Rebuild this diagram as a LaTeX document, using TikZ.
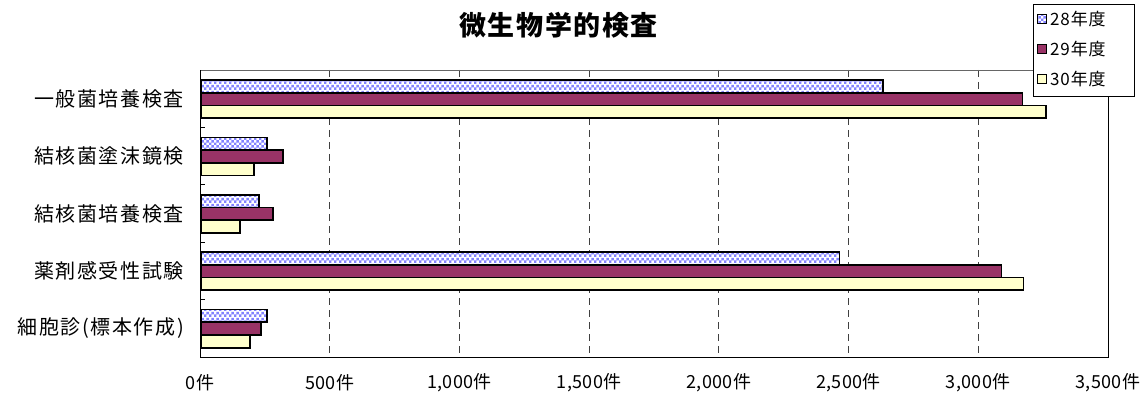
\documentclass[tikz,border=0pt]{standalone}
\usepackage{fontspec}
\setmainfont{Noto Sans CJK JP}
\newfontfamily\catfont[LetterSpace=8]{Noto Sans CJK JP}
\newfontfamily\titlefont[LetterSpace=6]{Noto Sans CJK JP}
\newfontfamily\numfont[LetterSpace=2]{Noto Sans CJK JP}
\newfontfamily\keyfont[LetterSpace=5]{Noto Sans CJK JP}
\usetikzlibrary{patterns}

\definecolor{lav}{RGB}{130,130,255}
\definecolor{plum}{RGB}{153,51,102}
\definecolor{cream}{RGB}{255,255,204}

\pgfdeclarepatternformonly{checker}{\pgfpointorigin}{\pgfqpoint{5.4pt}{5.4pt}}{\pgfqpoint{5.4pt}{5.4pt}}{
	\pgfpathrectangle{\pgfpointorigin}{\pgfqpoint{2.7pt}{2.7pt}}
	\pgfpathrectangle{\pgfqpoint{2.7pt}{2.7pt}}{\pgfqpoint{2.7pt}{2.7pt}}
	\pgfusepath{fill}
}

\tikzset{
	bar/.style={draw=black,line width=1.7pt},
	bara/.style={bar,preaction={fill=white},pattern=checker,pattern color=lav},
	barb/.style={bar,fill=plum},
	barc/.style={bar,fill=cream},
	gridline/.style={black!75,line width=0.9pt,dash pattern=on 7pt off 5pt},
	catlabel/.style={anchor=east,inner sep=0pt,font=\catfont\fontsize{20}{23}\selectfont},
	ticklabel/.style={anchor=center,inner sep=0pt,font=\numfont\fontsize{18}{21}\selectfont},
	keylabel/.style={anchor=west,inner sep=0pt,font=\keyfont\fontsize{17}{20}\selectfont},
}

\begin{document}
\begin{tikzpicture}[x=1pt,y=-1pt]
	\useasboundingbox (0,0) rectangle (1147,398);
	% title
	\node[font=\titlefont\fontsize{27}{31}\selectfont\bfseries] (title) at (558.5,25) {微生物学的検査};
	% grid
	\foreach \k in {1,...,6}
		\draw[gridline] ({200+\k*129.7},70) -- ({200+\k*129.7},357);
	\draw[black!60,line width=0.9pt] (200,70) -- (1108,70);
	\draw[black,line width=1pt] (1108,70) -- (1108,357) -- (200,357) -- (200,70);
	\foreach \k in {1,...,4}
		\draw[black,line width=1pt] (200,{70+\k*57.4}) -- (205,{70+\k*57.4});
	% bars
	\foreach \i/\a/\b/\c in {0/2634/3171/3260,1/257/319/208,2/227/282/154,3/2465/3090/3174,4/257/234/193}{
		\pgfmathsetmacro{\t}{80+\i*57.4}
		\draw[bara] (201,\t) rectangle ({200+\a*0.2594},{\t+12.7});
		\draw[barb] (201,{\t+12.7}) rectangle ({200+\b*0.2594},{\t+25.4});
		\draw[barc] (201,{\t+25.4}) rectangle ({200+\c*0.2594},{\t+38.1});
	}
	% category labels
	\foreach \i/\name in {0/一般菌培養検査,1/結核菌塗沫鏡検,2/結核菌培養検査,3/薬剤感受性試験,4/細胞診(標本作成)}
		\node[catlabel] (cat\i) at (184,{98.7+\i*57.4}) {\name};
	% axis labels
	\foreach \k/\v in {0/0件,1/500件,2/{1,000件},3/{1,500件},4/{2,000件},5/{2,500件},6/{3,000件},7/{3,500件}}
		\node[ticklabel] (tick\k) at ({200+\k*129.7},383) {\v};
	% legend
	\node[draw=black,line width=0.9pt,fill=white,minimum width=101pt,minimum height=92pt,anchor=north west] (key) at (1033,4) {};
	\draw[black,line width=1pt,preaction={fill=white},pattern=checker,pattern color=lav] (1037.5,15) rectangle (1046.5,24);
	\draw[black,line width=1pt,fill=plum] (1037.5,45) rectangle (1046.5,54);
	\draw[black,line width=1pt,fill=cream] (1037.5,75) rectangle (1046.5,84);
	\node[keylabel] (key28) at (1050,19.5) {28年度};
	\node[keylabel] (key29) at (1050,49.5) {29年度};
	\node[keylabel] (key30) at (1050,79.5) {30年度};
\end{tikzpicture}
\end{document}
